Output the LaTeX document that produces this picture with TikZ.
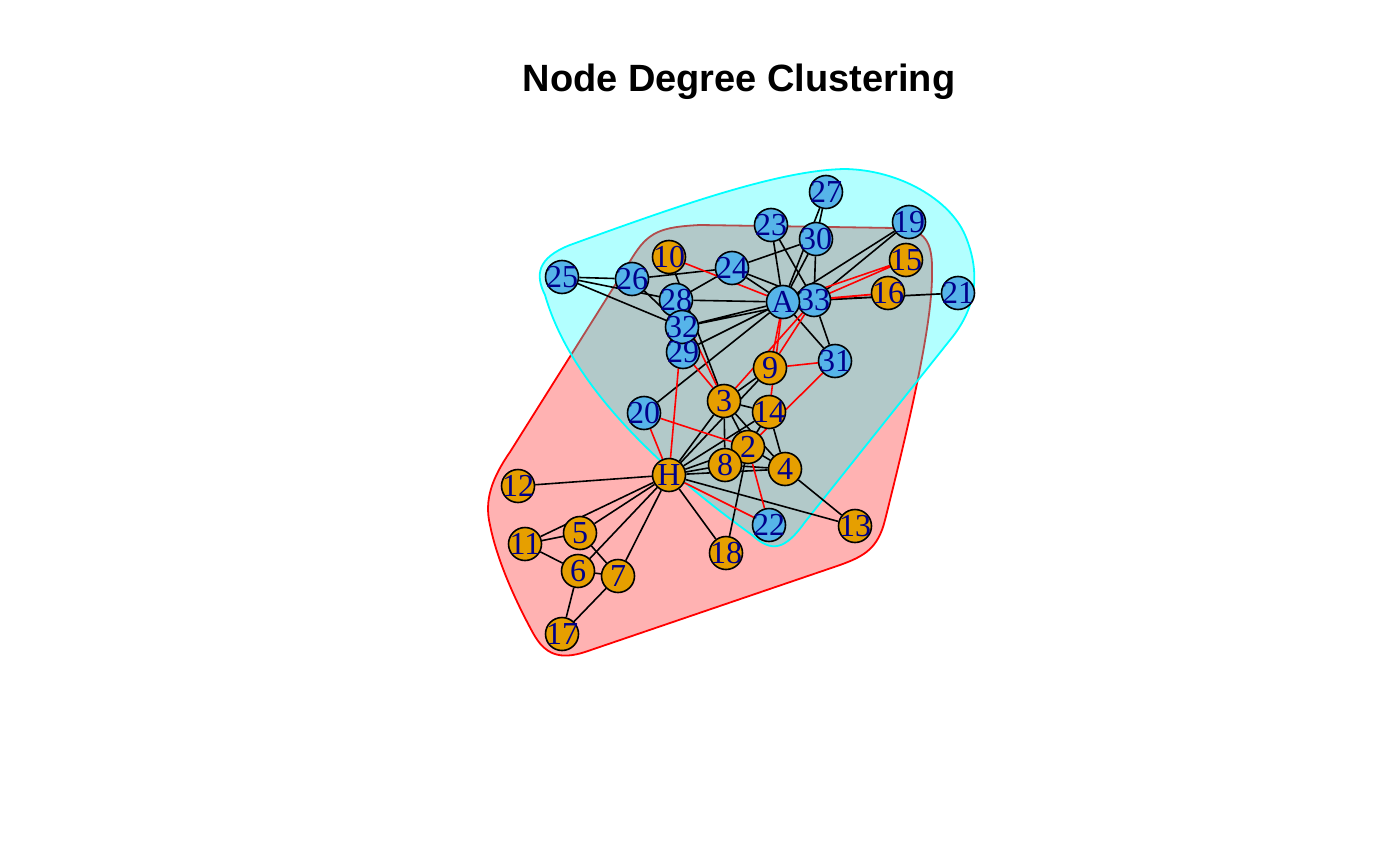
\documentclass[tikz,border=0pt]{standalone}
\usepackage{fontspec}
\setmainfont{Liberation Serif}
\newfontfamily\titlefont{Liberation Sans}
\usetikzlibrary{backgrounds}
\definecolor{vorange}{HTML}{E69F00}
\definecolor{vblue}{HTML}{56B4E9}
\definecolor{lblnavy}{HTML}{00008B}
\definecolor{hullred}{HTML}{FF0000}
\definecolor{hullcyan}{HTML}{00FFFF}

\tikzset{
  vtx/.style={circle,draw=black,line width=0.8pt,minimum size=16.5pt,inner sep=0pt},
  ovtx/.style={vtx,fill=vorange},
  bvtx/.style={vtx,fill=vblue},
  vlbl/.style={text=lblnavy,font=\fontsize{16}{16}\selectfont,inner sep=0pt},
  inedge/.style={black,line width=0.8pt},
  outedge/.style={hullred,line width=0.8pt},
  hull/.style={line width=0.9pt,fill opacity=0.3}
}

\begin{document}
\begin{tikzpicture}[x=0.5pt,y=-0.5pt]
\useasboundingbox (0,0) rectangle (1400,866);

% ===== Title =====
\node[font=\titlefont\bfseries\fontsize{19}{19}\selectfont,anchor=base] (title) at (739,92) {Node Degree Clustering};

% ===== Vertices =====
\node[ovtx] (vH) at (669,475) {};
\node[ovtx] (v2) at (748,447) {};
\node[ovtx] (v3) at (724,401) {};
\node[ovtx] (v4) at (785,469) {};
\node[ovtx] (v5) at (580,533) {};
\node[ovtx] (v6) at (578,571) {};
\node[ovtx] (v7) at (618,576) {};
\node[ovtx] (v8) at (725,465) {};
\node[ovtx] (v9) at (770,368) {};
\node[ovtx] (v10) at (669,257) {};
\node[ovtx] (v11) at (525,544) {};
\node[ovtx] (v12) at (518,486) {};
\node[ovtx] (v13) at (855,526) {};
\node[ovtx] (v14) at (769,412) {};
\node[ovtx] (v15) at (906,260) {};
\node[ovtx] (v16) at (888,293) {};
\node[ovtx] (v17) at (562,634) {};
\node[ovtx] (v18) at (726,553) {};
\node[bvtx] (v19) at (909,222) {};
\node[bvtx] (v20) at (644,413) {};
\node[bvtx] (v21) at (958,293) {};
\node[bvtx] (v22) at (769,525) {};
\node[bvtx] (v23) at (771,225) {};
\node[bvtx] (v24) at (732,268) {};
\node[bvtx] (v25) at (562,277) {};
\node[bvtx] (v26) at (632,279) {};
\node[bvtx] (v27) at (826,192) {};
\node[bvtx] (v28) at (676,300) {};
\node[bvtx] (v29) at (683,352) {};
\node[bvtx] (v30) at (816,239) {};
\node[bvtx] (v31) at (835,361) {};
\node[bvtx] (v32) at (682,327) {};
\node[bvtx] (v33) at (814,300) {};
\node[bvtx] (vA) at (783,302) {};

% Labels on top of all circles
\node[vlbl] (tH) at (vH) {H};
\node[vlbl] (t2) at (v2) {2};
\node[vlbl] (t3) at (v3) {3};
\node[vlbl] (t4) at (v4) {4};
\node[vlbl] (t5) at (v5) {5};
\node[vlbl] (t6) at (v6) {6};
\node[vlbl] (t7) at (v7) {7};
\node[vlbl] (t8) at (v8) {8};
\node[vlbl] (t9) at (v9) {9};
\node[vlbl] (t10) at (v10) {10};
\node[vlbl] (t11) at (v11) {11};
\node[vlbl] (t12) at (v12) {12};
\node[vlbl] (t13) at (v13) {13};
\node[vlbl] (t14) at (v14) {14};
\node[vlbl] (t15) at (v15) {15};
\node[vlbl] (t16) at (v16) {16};
\node[vlbl] (t17) at (v17) {17};
\node[vlbl] (t18) at (v18) {18};
\node[vlbl] (t19) at (v19) {19};
\node[vlbl] (t20) at (v20) {20};
\node[vlbl] (t21) at (v21) {21};
\node[vlbl] (t22) at (v22) {22};
\node[vlbl] (t23) at (v23) {23};
\node[vlbl] (t24) at (v24) {24};
\node[vlbl] (t25) at (v25) {25};
\node[vlbl] (t26) at (v26) {26};
\node[vlbl] (t27) at (v27) {27};
\node[vlbl] (t28) at (v28) {28};
\node[vlbl] (t29) at (v29) {29};
\node[vlbl] (t30) at (v30) {30};
\node[vlbl] (t31) at (v31) {31};
\node[vlbl] (t32) at (v32) {32};
\node[vlbl] (t33) at (v33) {33};
\node[vlbl] (tA) at (vA) {A};

\begin{pgfonlayer}{background}
  \fill[white] (0,0) rectangle (1400,866);

  % ===== Group hulls =====
  \draw[hull,hullred,fill=hullred]
    (510,452) -- (632,258) .. controls (648,232) and (660,227) .. (700,225)
    -- (895,228) .. controls (925,229) and (933,240) .. (932,275)
    .. controls (932,330) and (905,440) .. (885,520)
    .. controls (878,548) and (865,556) .. (840,565)
    -- (585,652) .. controls (560,660) and (545,655) .. (533,633)
    .. controls (515,600) and (497,560) .. (490,525)
    .. controls (484,500) and (492,478) .. (510,452) -- cycle;
  \draw[hull,hullcyan,fill=hullcyan]
    (545,295) .. controls (535,275) and (537,258) .. (570,245)
    .. controls (680,205) and (780,170) .. (845,169)
    .. controls (900,170) and (950,200) .. (965,235)
    .. controls (982,275) and (975,310) .. (950,340)
    -- (805,522) .. controls (785,550) and (772,553) .. (752,535)
    .. controls (690,490) and (575,400) .. (545,295) -- cycle;

  % ===== Edges inside a group =====
  \draw[inedge] (vH) -- (v2) (vH) -- (v3) (vH) -- (v4) (vH) -- (v5) (vH) -- (v6)
    (vH) -- (v7) (vH) -- (v8) (vH) -- (v9) (vH) -- (v11) (vH) -- (v12)
    (vH) -- (v13) (vH) -- (v14) (vH) -- (v18);
  \draw[inedge] (v2) -- (v3) (v2) -- (v4) (v2) -- (v8) (v2) -- (v14) (v2) -- (v18);
  \draw[inedge] (v3) -- (v4) (v3) -- (v8) (v3) -- (v9) (v3) -- (v10) (v3) -- (v14);
  \draw[inedge] (v4) -- (v8) (v4) -- (v13) (v4) -- (v14);
  \draw[inedge] (v5) -- (v7) (v5) -- (v11) (v6) -- (v7) (v6) -- (v11) (v6) -- (v17)
    (v7) -- (v17);
  \draw[inedge] (v19) -- (v33) (v19) -- (vA) (v20) -- (vA) (v21) -- (v33) (v21) -- (vA)
    (v23) -- (v33) (v23) -- (vA);
  \draw[inedge] (v24) -- (v26) (v24) -- (v28) (v24) -- (v30) (v24) -- (v33) (v24) -- (vA);
  \draw[inedge] (v25) -- (v26) (v25) -- (v28) (v25) -- (v32) (v26) -- (v32);
  \draw[inedge] (v27) -- (v30) (v27) -- (vA) (v28) -- (vA) (v29) -- (v32) (v29) -- (vA);
  \draw[inedge] (v30) -- (v33) (v30) -- (vA) (v31) -- (v33) (v31) -- (vA)
    (v32) -- (v33) (v32) -- (vA) (v33) -- (vA);

  % ===== Edges between groups =====
  \draw[outedge] (vH) -- (v20) (vH) -- (v22) (vH) -- (v32);
  \draw[outedge] (v2) -- (v20) (v2) -- (v22) (v2) -- (v31);
  \draw[outedge] (v3) -- (v28) (v3) -- (v29) (v3) -- (v33);
  \draw[outedge] (v9) -- (v31) (v9) -- (v33) (v9) -- (vA);
  \draw[outedge] (v10) -- (vA) (v14) -- (vA);
  \draw[outedge] (v15) -- (v33) (v15) -- (vA) (v16) -- (v33) (v16) -- (vA);
\end{pgfonlayer}

\end{tikzpicture}
\end{document}
